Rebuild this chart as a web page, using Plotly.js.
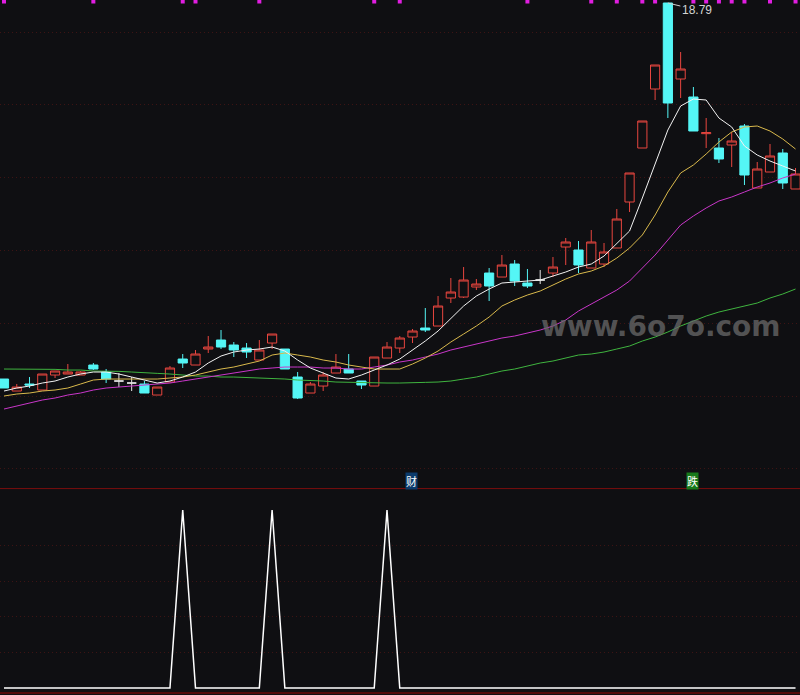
<!DOCTYPE html>
<html>
<head>
<meta charset="utf-8">
<script src="https://cdn.plot.ly/plotly-3.0.1.min.js"></script>
<style>
  html, body { margin: 0; padding: 0; background: #0f0f12; }
  #chart { width: 800px; height: 695px; }
</style>
</head>
<body>
<div id="chart"></div>
<script>
(function () {
  // daily bars
  var openP  = [7.51,7.15,7.36,7.18,7.63,7.66,7.63,7.93,7.72,7.45,
                7.39,7.36,7.03,7.42,8.11,7.93,8.41,8.68,8.53,8.44,
                8.08,8.59,8.41,7.57,7.09,7.30,7.69,7.81,7.45,7.30,
                8.14,8.44,8.77,9.04,9.10,9.94,9.97,10.27,10.69,10.57,
                10.96,10.39,10.48,10.69,11.47,11.38,10.84,10.96,11.44,12.82,
                14.44,16.21,18.79,16.51,15.97,14.87,14.44,14.53,15.10,13.24,
                13.72,14.29,13.21];
  var highP  = [7.51,7.36,7.57,7.66,7.75,7.96,7.75,7.99,7.81,7.69,
                7.57,7.45,7.27,7.90,8.26,8.38,8.80,8.98,8.62,8.59,
                8.68,8.86,8.41,7.72,7.42,7.72,8.26,8.26,7.45,8.17,
                8.62,8.80,9.01,9.64,10.00,10.54,10.87,10.51,10.84,11.23,
                11.08,10.81,10.78,11.17,11.74,11.65,11.98,11.59,12.61,13.69,
                15.25,16.93,18.79,17.32,16.27,15.34,14.74,14.92,15.16,14.02,
                14.56,14.41,13.84];
  var lowP   = [7.24,7.15,7.24,7.18,7.54,7.66,7.63,7.78,7.39,7.27,
                7.15,7.09,7.03,7.42,7.84,7.93,8.29,8.41,8.17,8.14,
                8.08,8.41,7.81,6.91,7.09,7.15,7.69,7.69,7.21,7.30,
                8.14,8.29,8.59,8.92,9.10,9.79,9.94,10.18,9.85,10.57,
                10.30,10.24,10.36,10.57,10.93,10.69,10.84,10.87,11.44,12.52,
                14.44,15.88,15.34,15.94,14.95,14.44,13.99,13.87,13.33,13.24,
                13.72,13.21,13.21];
  var closeP = [7.24,7.27,7.33,7.66,7.75,7.72,7.72,7.81,7.51,7.45,
                7.39,7.09,7.27,7.84,7.99,8.26,8.47,8.47,8.38,8.32,
                8.38,8.86,7.81,6.94,7.36,7.63,7.87,7.69,7.33,8.17,
                8.47,8.74,8.95,8.98,9.70,10.12,10.48,10.36,10.30,10.93,
                10.45,10.30,10.48,10.87,11.62,10.93,11.62,11.32,12.31,13.69,
                15.25,16.93,15.79,16.81,14.95,14.90,14.11,14.65,13.63,13.81,
                14.20,13.39,13.66];

  var ma5  = [7.15,7.24,7.30,7.39,7.45,7.57,7.66,7.72,7.72,7.66,
              7.57,7.48,7.39,7.45,7.57,7.72,7.99,8.20,8.32,8.38,
              8.41,8.47,8.35,8.08,7.84,7.69,7.54,7.51,7.63,7.78,
              7.93,8.11,8.38,8.65,8.95,9.34,9.70,10.00,10.21,10.39,
              10.42,10.45,10.48,10.60,10.72,10.87,10.96,11.20,11.56,11.95,
              12.94,13.99,14.98,15.70,15.91,15.88,15.34,15.07,14.50,14.23,
              14.05,13.90,13.75];
  var ma10 = [7.00,7.06,7.09,7.15,7.18,7.24,7.36,7.48,7.51,7.51,
              7.51,7.51,7.51,7.54,7.57,7.63,7.72,7.81,7.87,7.96,
              8.05,8.23,8.29,8.23,8.17,8.08,8.02,7.93,7.87,7.81,
              7.81,7.81,7.96,8.14,8.35,8.62,8.86,9.10,9.37,9.70,
              9.88,10.03,10.15,10.33,10.51,10.66,10.75,10.90,11.14,11.44,
              11.83,12.43,13.12,13.69,13.93,14.26,14.62,14.92,15.07,15.10,
              14.95,14.71,14.41];
  var ma20 = [6.61,6.70,6.79,6.88,6.94,7.03,7.09,7.18,7.24,7.27,
              7.30,7.33,7.36,7.39,7.45,7.51,7.57,7.63,7.69,7.75,
              7.81,7.84,7.87,7.87,7.87,7.84,7.84,7.81,7.81,7.87,
              7.93,8.02,8.08,8.17,8.26,8.38,8.47,8.56,8.65,8.74,
              8.80,8.89,8.98,9.10,9.28,9.55,9.76,9.97,10.18,10.45,
              10.84,11.23,11.68,12.13,12.40,12.64,12.85,12.97,13.12,13.27,
              13.39,13.54,13.66];
  var ma60 = [7.81,7.81,7.81,7.81,7.80,7.78,7.78,7.75,7.75,7.74,
              7.72,7.69,7.68,7.66,7.63,7.60,7.60,7.57,7.57,7.56,
              7.54,7.53,7.51,7.48,7.47,7.45,7.42,7.41,7.39,7.39,
              7.39,7.39,7.39,7.41,7.42,7.45,7.51,7.57,7.66,7.75,
              7.81,7.90,7.99,8.05,8.14,8.23,8.26,8.32,8.41,8.50,
              8.65,8.77,8.92,9.10,9.25,9.40,9.52,9.61,9.70,9.79,
              9.94,10.06,10.21];

  // lower panel signal
  var signal = [0,0,0,0,0,0,0,0,0,0,
                0,0,0,0,1,0,0,0,0,0,
                0,1,0,0,0,0,0,0,0,0,
                1,0,0,0,0,0,0,0,0,0,
                0,0,0,0,0,0,0,0,0,0,
                0,0,0,0,0,0,0,0,0,0,
                0,0,0];

  var flagBars = [0,7,14,15,20,29,31,41,46,48,50,51,54,55,56,57,58,60,62];
  var markTexts = ["财", "跌"];
  var markBars = [32, 54];
  var markColors = ["#0b3b6c", "#177a1a"];
  var peakLabel = "18.79";
  var peakBar = 52;
  var gridPrices = [4.84, 7.00, 9.19, 11.38, 13.57, 15.76, 17.92];
  var gridSignal = [0.2, 0.4, 0.6, 0.8];

  var BG = "#0f0f12";
  var RED = "#e8463f";
  var CYAN = "#54f6f6";

  var idx = closeP.map(function (_, i) { return i; });

  function pick(test) {
    var o = { x: [], open: [], high: [], low: [], close: [] };
    idx.forEach(function (i) {
      if (!test(openP[i], closeP[i])) return;
      o.x.push(i); o.open.push(openP[i]); o.high.push(highP[i]);
      o.low.push(lowP[i]); o.close.push(closeP[i]);
    });
    return o;
  }

  function candles(set, color, fill) {
    return {
      type: "candlestick",
      x: set.x, open: set.open, high: set.high, low: set.low, close: set.close,
      increasing: { line: { color: color, width: 1 }, fillcolor: fill },
      decreasing: { line: { color: color, width: 1 }, fillcolor: fill },
      whiskerwidth: 0,
      hoverinfo: "skip",
    };
  }

  function maLine(vals, color) {
    return {
      type: "scatter", mode: "lines", x: idx, y: vals,
      line: { color: color, width: 1 }, hoverinfo: "skip",
    };
  }

  var traces = [
    maLine(ma60, "#3fb43f"),
    maLine(ma20, "#c936c9"),
    maLine(ma10, "#d9b94c"),
    maLine(ma5, "#f2f2f2"),
    candles(pick(function (o, c) { return c > o; }), RED, BG),
    candles(pick(function (o, c) { return c < o; }), CYAN, CYAN),
    candles(pick(function (o, c) { return c === o; }), "#e6e6e6", "#e6e6e6"),
    {
      type: "scatter", mode: "markers",
      x: flagBars, y: flagBars.map(function () { return 18.835; }),
      marker: { symbol: "square", size: 4, color: "#e01ee0" },
      cliponaxis: false, hoverinfo: "skip",
    },
    {
      type: "scatter", mode: "lines", x: idx, y: signal, yaxis: "y2",
      line: { color: "#ffffff", width: 1.5 }, hoverinfo: "skip",
    },
  ];

  var annotations = [
    {
      x: 51.45, y: 9.1, xref: "x", yref: "y", showarrow: false,
      text: "www.6o7o.com",
      font: { family: "DejaVu Sans", size: 28, weight: "bold", color: "rgba(105,105,105,0.75)" },
    },
    {
      x: peakBar, y: highP[peakBar], xref: "x", yref: "y",
      text: peakLabel, showarrow: true, arrowhead: 0, arrowwidth: 1,
      arrowcolor: "#cfcfcf", ax: 29, ay: 7,
      font: { family: "Liberation Sans", size: 12, color: "#d4d4d4" },
    },
  ];
  markTexts.forEach(function (t, k) {
    annotations.push({
      x: markBars[k], y: 4.465, xref: "x", yref: "y", showarrow: false,
      text: t, bgcolor: markColors[k], borderpad: 0, xshift: -1,
      font: { family: "Noto Sans CJK SC", size: 11, color: "#ffffff" },
    });
  });

  var layout = {
    width: 800,
    height: 695,
    margin: { l: 0, r: 0, t: 0, b: 0 },
    paper_bgcolor: BG,
    plot_bgcolor: BG,
    showlegend: false,
    boxgap: 0.28,
    boxgroupgap: 0,
    xaxis: {
      range: [-0.313, 62.35],
      showgrid: false, zeroline: false, showticklabels: false, ticks: "",
      rangeslider: { visible: false },
    },
    yaxis: {
      domain: [0.2978, 1],
      range: [4.24, 18.88],
      tickvals: gridPrices,
      showticklabels: false, ticks: "", zeroline: false,
      showgrid: true, gridcolor: "#3d1414", griddash: "1px,3px", gridwidth: 1,
    },
    yaxis2: {
      domain: [0, 0.2978],
      range: [-0.0393, 1.1236],
      tickvals: gridSignal,
      showticklabels: false, ticks: "", zeroline: false,
      showgrid: true, gridcolor: "#3d1414", griddash: "1px,3px", gridwidth: 1,
    },
    shapes: [
      { type: "line", xref: "paper", yref: "paper", x0: 0, x1: 1, y0: 0.2970, y1: 0.2970,
        line: { color: "#7a0e0e", width: 1 } },
      { type: "line", xref: "paper", yref: "paper", x0: 0, x1: 1, y0: 0.0029, y1: 0.0029,
        line: { color: "#520a0a", width: 2 } },
    ],
    annotations: annotations,
  };

  Plotly.newPlot("chart", traces, layout, { displayModeBar: false, staticPlot: true });
})();
</script>
</body>
</html>
